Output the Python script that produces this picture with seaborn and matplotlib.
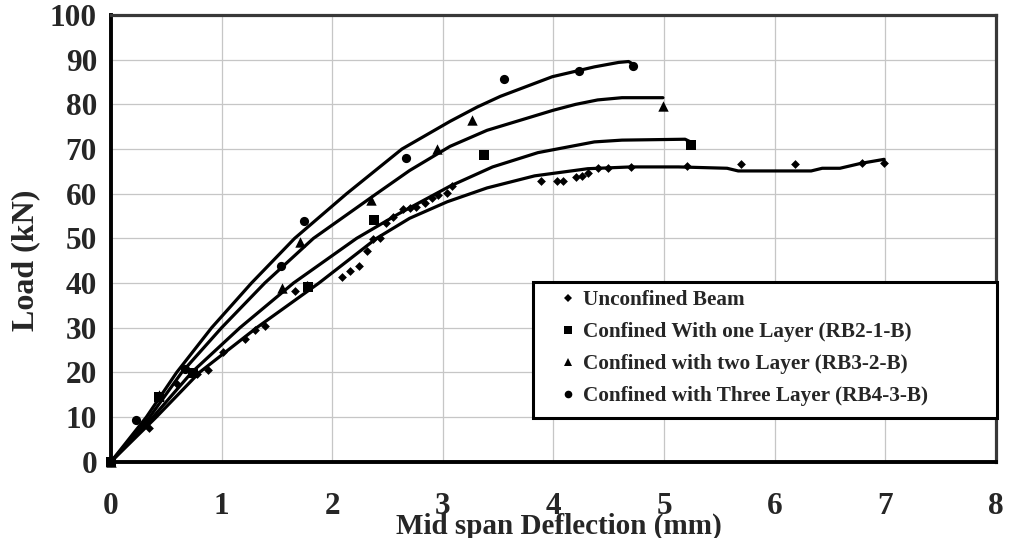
import matplotlib
matplotlib.use("Agg")
import matplotlib.pyplot as plt
from matplotlib.lines import Line2D
from matplotlib.patches import Rectangle
import seaborn as sns

# ---- measured points (mid-span deflection in mm, load in kN) ----
unconf_x = [0, 0.346, 0.594, 0.775, 0.88, 1.015, 1.21, 1.30, 1.39, 1.66, 1.77,
            2.09, 2.16, 2.24, 2.31, 2.37, 2.43, 2.49, 2.55, 2.64, 2.70, 2.76,
            2.84, 2.90, 2.96, 3.035, 3.08, 3.89, 4.03, 4.085, 4.20, 4.26, 4.31,
            4.40, 4.49, 4.70, 5.21, 5.70, 6.18, 6.79, 6.99]
unconf_y = [0, 7.5, 17.5, 19.6, 20.5, 24.6, 27.5, 29.5, 30.3, 38.3, 39.5,
            41.4, 42.8, 43.9, 47.2, 49.8, 50.1, 53.4, 54.9, 56.6, 56.9, 57.1,
            58.0, 59.0, 59.7, 60.1, 61.8, 62.8, 62.8, 62.8, 63.7, 64.0, 64.7,
            65.7, 65.7, 66.0, 66.2, 66.6, 66.6, 66.9, 66.9]

one_x = [0, 0.43, 0.745, 1.78, 2.38, 3.37, 5.24]
one_y = [0, 14.6, 19.8, 39.2, 54.1, 68.6, 70.9]

two_x = [0, 0.43, 1.55, 1.71, 2.35, 2.95, 3.26, 4.99]
two_y = [0, 14.9, 38.8, 49.3, 58.6, 70.0, 76.5, 79.6]

three_x = [0, 0.226, 0.67, 1.54, 1.745, 2.67, 3.55, 4.23, 4.72]
three_y = [0, 9.4, 20.8, 43.9, 54.0, 68.1, 85.7, 87.5, 88.6]

# ---- fitted curves ----
unconf_fit_x = [0, 0.41, 0.80, 1.317, 1.88, 2.40, 2.70, 3.04, 3.40, 3.83, 4.31,
                4.70, 5.13, 5.57, 5.67, 6.33, 6.43, 6.59, 6.78, 6.99]
unconf_fit_y = [0, 10, 20, 30, 40, 50, 54.5, 58.2, 61.3, 64.0, 65.6,
                66.0, 66.0, 65.7, 65.1, 65.1, 65.7, 65.7, 66.8, 67.7]

one_fit_x = [0, 0.38, 0.73, 1.166, 1.65, 2.22, 2.60, 3.065, 3.45, 3.86, 4.37,
             4.62, 5.19, 5.24]
one_fit_y = [0, 10, 20, 30, 40, 50, 55.5, 61.7, 66.0, 69.2, 71.6,
             72.0, 72.2, 71.6]

two_fit_x = [0, 0.35, 0.64, 1.0, 1.39, 1.83, 2.40, 2.70, 3.065, 3.40, 4.0,
             4.2, 4.40, 4.62, 4.99]
two_fit_y = [0, 10, 20, 30, 40, 50, 60, 65.2, 70.6, 74.2, 78.7,
             80, 81.0, 81.5, 81.5]

three_fit_x = [0, 0.32, 0.594, 0.91, 1.27, 1.66, 2.13, 2.63, 3.065, 3.31, 3.52,
               3.99, 4.37, 4.59, 4.68, 4.72]
three_fit_y = [0, 10, 20, 30, 40, 50, 60, 70, 76.2, 79.4, 81.8,
               86.2, 88.4, 89.4, 89.6, 89.0]

labels = ["Unconfined Beam",
          "Confined With one Layer (RB2-1-B)",
          "Confined with two Layer (RB3-2-B)",
          "Confined with Three Layer (RB4-3-B)"]

x_ticks = [0, 1, 2, 3, 4, 5, 6, 7, 8]
y_ticks = [0, 10, 20, 30, 40, 50, 60, 70, 80, 90, 100]

sns.set_style("white")
plt.rcParams["font.family"] = ["Liberation Serif", "DejaVu Serif"]
plt.rcParams["font.weight"] = "bold"

fig = plt.figure(figsize=(10.09, 5.38), dpi=100)
ax = fig.add_axes([0.110, 0.1418, 0.877, 0.8302])

ax.set_xlim(0, 8)
ax.set_ylim(0, 100)
ax.set_xticks(x_ticks)
ax.set_yticks(y_ticks)
ax.grid(True, color="#c6c6c6", linewidth=0.9)
ax.set_axisbelow(True)

# fitted curves
for fx, fy in [(unconf_fit_x, unconf_fit_y), (one_fit_x, one_fit_y),
               (two_fit_x, two_fit_y), (three_fit_x, three_fit_y)]:
    sns.lineplot(x=fx, y=fy, sort=False, estimator=None, color="black",
                 linewidth=2.3, ax=ax, zorder=3)

# experimental points
series = [(unconf_x, unconf_y, "D", 20),
          (one_x, one_y, "s", 46),
          (two_x, two_y, "^", 56),
          (three_x, three_y, "o", 44)]
for sx, sy, mk, sz in series:
    sns.scatterplot(x=sx, y=sy, marker=mk, s=sz, color="black",
                    edgecolor="black", linewidth=0, ax=ax, zorder=4,
                    clip_on=False)

# axes frame
for side in ["left", "bottom"]:
    ax.spines[side].set_color("black")
    ax.spines[side].set_linewidth(2.8)
for side in ["top", "right"]:
    ax.spines[side].set_color("#383838")
    ax.spines[side].set_linewidth(2.3)

ax.tick_params(axis="both", which="major", direction="out", length=5,
               width=2.2, color="black", labelsize=22.5)
ax.tick_params(axis="x", pad=16.5)
ax.tick_params(axis="y", pad=5)
for t in ax.get_xticklabels() + ax.get_yticklabels():
    t.set_fontweight("bold")

ax.set_xlabel("Mid span Deflection (mm)", fontsize=21, fontweight="bold")
ax.xaxis.label.set_va("baseline")
ax.xaxis.set_label_coords(0.5065, -0.160)
ax.set_ylabel("Load (kN)", fontsize=23, fontweight="bold")
ax.yaxis.set_label_coords(-0.080, 0.4515)

# legend box
box = Rectangle((0.4768, 0.0978), 0.5243, 0.3045, transform=ax.transAxes,
                facecolor="white", edgecolor="black", linewidth=2.2,
                zorder=5, clip_on=False)
ax.add_patch(box)

handles = [Line2D([], [], linestyle="none", marker=m, color="black",
                  markersize=ms, markeredgewidth=0)
           for m, ms in [("D", 4.0), ("s", 5.5), ("^", 6.0), ("o", 5.5)]]
leg = ax.legend(handles, labels, loc="upper left",
                bbox_to_anchor=(0.5046, 0.3845),
                prop={"weight": "bold", "size": 15.3}, frameon=False,
                borderpad=0, labelspacing=0.57, handlelength=1.0,
                handletextpad=0.22, borderaxespad=0)
leg.set_zorder(6)

fig.savefig("out.png", dpi=100)
